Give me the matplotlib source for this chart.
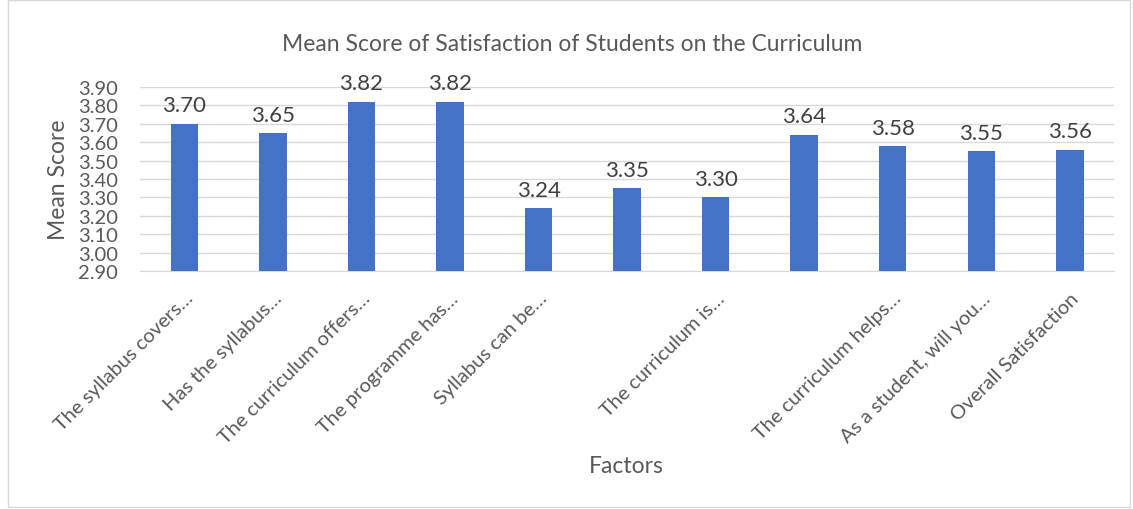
import matplotlib
matplotlib.use('Agg')
import matplotlib.pyplot as plt
import matplotlib.patches as patches
import numpy as np

factors = ["The syllabus covers…", "Has the syllabus…", "The curriculum offers…",
           "The programme has…", "Syllabus can be…", "", "The curriculum is…", "",
           "The curriculum helps…", "As a student, will you…", "Overall Satisfaction"]
scores = [3.70, 3.65, 3.82, 3.82, 3.24, 3.35, 3.30, 3.64, 3.58, 3.55, 3.56]
yticks = [2.90, 3.00, 3.10, 3.20, 3.30, 3.40, 3.50, 3.60, 3.70, 3.80, 3.90]

plt.rcParams['font.family'] = ['Lato', 'DejaVu Sans']
text_color = '#595959'

fig = plt.figure(figsize=(11.33, 5.10), dpi=100)
ax = fig.add_axes([0.1236, 0.4667, 0.8597, 0.3608])

x = np.arange(len(scores))
ax.bar(x, scores, width=0.31, color='#4472C4', zorder=3)
ax.set_ylim(2.90, 3.90)
ax.set_xlim(-0.5, len(scores) - 0.5)

for xi, v in zip(x, scores):
    ax.annotate('%.2f' % v, (xi, v), xytext=(0, 6), textcoords='offset points',
                ha='center', va='bottom', fontsize=16, color='#404040')

ax.set_yticks(yticks)
ax.set_yticklabels(['%.2f' % t for t in yticks], fontsize=14.5, color=text_color)
ax.yaxis.grid(True, color='#d9d9d9', linewidth=1, zorder=0)
ax.tick_params(axis='y', length=0, pad=16)
ax.tick_params(axis='x', length=0, pad=13)
ax.set_xticks(x)
ax.set_xticklabels(factors, rotation=45, ha='right', va='top',
                   rotation_mode='anchor', fontsize=14.5, color=text_color)

for side in ['top', 'right', 'left']:
    ax.spines[side].set_visible(False)
ax.spines['bottom'].set_color('#d9d9d9')

ax.set_ylabel('Mean Score', fontsize=16.5, color=text_color, labelpad=6)
fig.text(0.553, 0.085, 'Factors', ha='center', va='center', fontsize=16.5, color=text_color)
fig.text(0.505, 0.913, 'Mean Score of Satisfaction of Students on the Curriculum',
         ha='center', va='center', fontsize=16.5, color=text_color)

fig.patches.append(patches.Rectangle((0.007, 0.004), 0.99, 0.995, transform=fig.transFigure,
                                     fill=False, edgecolor='#d9d9d9', linewidth=1))

fig.savefig('out.png', dpi=100)
